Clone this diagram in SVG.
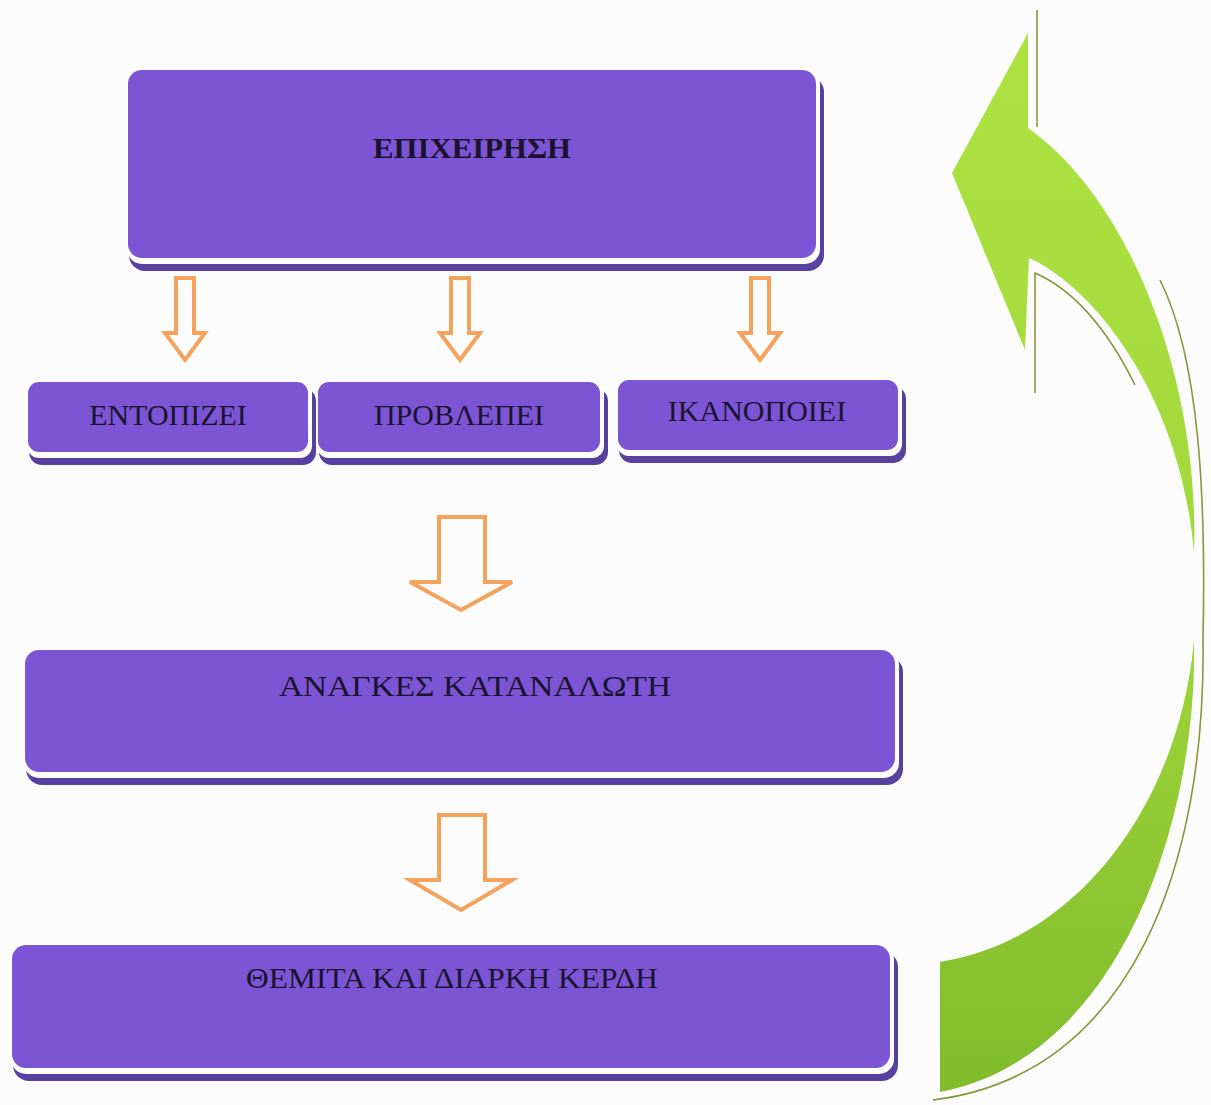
<svg xmlns="http://www.w3.org/2000/svg" width="1211" height="1105" viewBox="0 0 1211 1105">
  <defs>
    <style>
      .face { fill: #7b55d4; }
      .gap { fill: #ffffff; }
      .sh { fill: #56419f; }
      .lbl { font-family: "Liberation Serif", "Times New Roman", serif; font-size: 30px; fill: #1b1330; text-anchor: middle; }
      .bold { font-weight: bold; font-size: 30px; }
      .flow { fill: none; stroke: #f5a25c; stroke-width: 4; stroke-linejoin: miter; }
      .rim { fill: none; stroke: #87973a; stroke-width: 1.6; }
    </style>
    <linearGradient id="leaf" gradientUnits="userSpaceOnUse" x1="0" y1="30" x2="0" y2="1100">
      <stop offset="0" stop-color="#aee243"/>
      <stop offset="0.5" stop-color="#a2d83a"/>
      <stop offset="1" stop-color="#80bb2c"/>
    </linearGradient>
  </defs>

  <rect width="1211" height="1105" fill="#fcfcfd"/>

  <!-- company box -->
  <g id="node-epixeirisi">
    <rect class="sh" x="129" y="76" width="695" height="195" rx="16"/>
    <rect class="gap" x="127" y="69" width="693" height="195" rx="15"/>
    <rect class="face" x="128" y="70" width="688" height="188" rx="14"/>
    <text class="lbl bold" x="472" y="158" textLength="198" lengthAdjust="spacingAndGlyphs">ΕΠΙΧΕΙΡΗΣΗ</text>
  </g>

  <!-- three action boxes -->
  <g id="node-entopizei">
    <rect class="sh" x="29" y="388" width="287" height="77" rx="13"/>
    <rect class="gap" x="27" y="381" width="285" height="77" rx="12"/>
    <rect class="face" x="28" y="382" width="280" height="70" rx="11"/>
    <text class="lbl" x="168" y="425">ΕΝΤΟΠΙΖΕΙ</text>
  </g>
  <g id="node-provlepei">
    <rect class="sh" x="319" y="388" width="289" height="77" rx="13"/>
    <rect class="gap" x="317" y="381" width="287" height="77" rx="12"/>
    <rect class="face" x="318" y="382" width="282" height="70" rx="11"/>
    <text class="lbl" x="459" y="425">ΠΡΟΒΛΕΠΕΙ</text>
  </g>
  <g id="node-ikanopoiei">
    <rect class="sh" x="619" y="386" width="287" height="77" rx="13"/>
    <rect class="gap" x="617" y="379" width="285" height="77" rx="12"/>
    <rect class="face" x="618" y="380" width="280" height="70" rx="11"/>
    <text class="lbl" x="757" y="421">ΙΚΑΝΟΠΟΙΕΙ</text>
  </g>

  <!-- consumer needs -->
  <g id="node-anagkes">
    <rect class="sh" x="26" y="656" width="877" height="129" rx="16"/>
    <rect class="gap" x="24" y="649" width="875" height="129" rx="15"/>
    <rect class="face" x="25" y="650" width="870" height="122" rx="14"/>
    <text class="lbl" x="475" y="696" textLength="392" lengthAdjust="spacingAndGlyphs">ΑΝΑΓΚΕΣ ΚΑΤΑΝΑΛΩΤΗ</text>
  </g>

  <!-- fair and lasting profits -->
  <g id="node-kerdi">
    <rect class="sh" x="13" y="951" width="885" height="130" rx="16"/>
    <rect class="gap" x="11" y="944" width="883" height="130" rx="15"/>
    <rect class="face" x="12" y="945" width="878" height="123" rx="14"/>
    <text class="lbl" x="452" y="988" textLength="412" lengthAdjust="spacingAndGlyphs">ΘΕΜΙΤΑ ΚΑΙ ΔΙΑΡΚΗ ΚΕΡΔΗ</text>
  </g>

  <g id="connectors">
    <!-- hollow block arrows -->
    <path class="flow" d="M176,278 h18 v55 h11 L185,360 L165,333 h11 Z"/>
    <path class="flow" d="M451,278 h18 v55 h11 L460,360 L440,333 h11 Z"/>
    <path class="flow" d="M751,278 h18 v55 h11 L760,360 L740,333 h11 Z"/>
    <path class="flow" d="M439,517 h46 v65 h27 L461,610 L410,582 h29 Z"/>
    <path class="flow" d="M439,815 h46 v65 h27 L461,910 L410,880 h29 Z"/>

    <!-- curved return arrow -->
    <g id="return-arrow">
      <path fill="url(#leaf)" d="M1028,33 L952,173 L1025,350 L1029,258 C1090,285 1180,390 1194,553 C1200,380 1130,200 1028,128 Z"/>
      <path fill="url(#leaf)" d="M1194,640 C1198,820 1120,1058 940,1092 L940,962 C1080,940 1180,800 1194,640 Z"/>
      <path class="rim" d="M1037,10 L1037,127"/>
      <path class="rim" d="M1035,393 L1035,273 Q1092,298 1135,385"/>
      <path class="rim" d="M1160,280 C1200,360 1206,500 1203,640 C1206,860 1135,1075 933,1100"/>
    </g>
  </g>
</svg>
